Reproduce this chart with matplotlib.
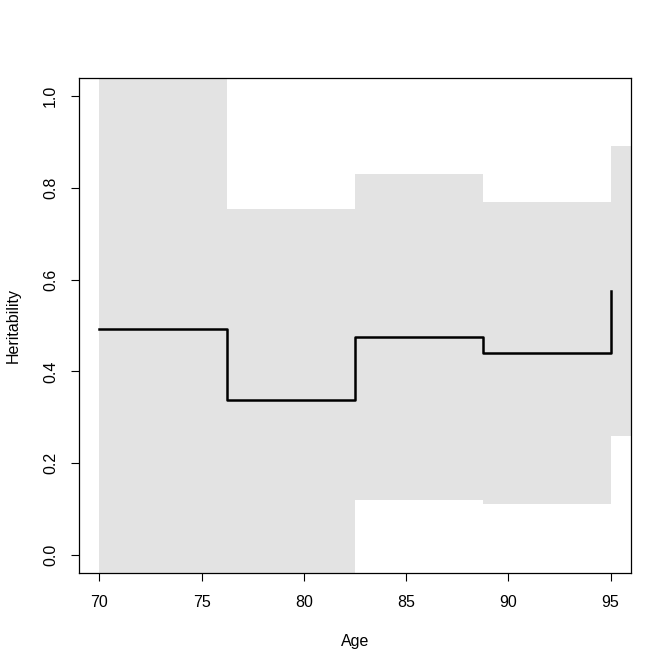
import numpy as np
import matplotlib
matplotlib.use('Agg')
from matplotlib import pyplot as plt

plt.rcParams['font.family'] = ['Liberation Sans', 'DejaVu Sans']

# step estimates
age = [70, 76.25, 82.5, 88.75, 95]
h2 = [0.493, 0.337, 0.474, 0.440, 0.576]
# confidence band, one value per step, last step runs past 95
band_age = [70, 76.25, 82.5, 88.75, 95, 97]
upper = [1.10, 0.754, 0.830, 0.769, 0.891, 0.891]
lower = [-0.10, -0.10, 0.120, 0.110, 0.260, 0.260]

fig = plt.figure(figsize=(6.72, 6.72), dpi=100)
ax = fig.add_axes([0.1176, 0.1473, 0.8214, 0.7366])

ax.fill_between(band_age, lower, upper, step='post', color='#e3e3e3', linewidth=0)
ax.step(age, h2, where='post', color='black', linewidth=1.8)

ax.set_xlim(69, 96)
ax.set_ylim(-0.04, 1.04)
ax.set_xticks([70, 75, 80, 85, 90, 95])
ax.set_yticks([0.0, 0.2, 0.4, 0.6, 0.8, 1.0])
ax.set_yticklabels(['0.0', '0.2', '0.4', '0.6', '0.8', '1.0'], rotation=90, va='center')
ax.tick_params(labelsize=11.5, length=6, pad=9)
ax.tick_params(axis='x', pad=10)
ax.set_xlabel('Age', fontsize=11.5, labelpad=17)
ax.set_ylabel('Heritability', fontsize=11.5, labelpad=16)
for s in ax.spines.values():
    s.set_linewidth(0.9)

fig.savefig('out.png', dpi=100)
